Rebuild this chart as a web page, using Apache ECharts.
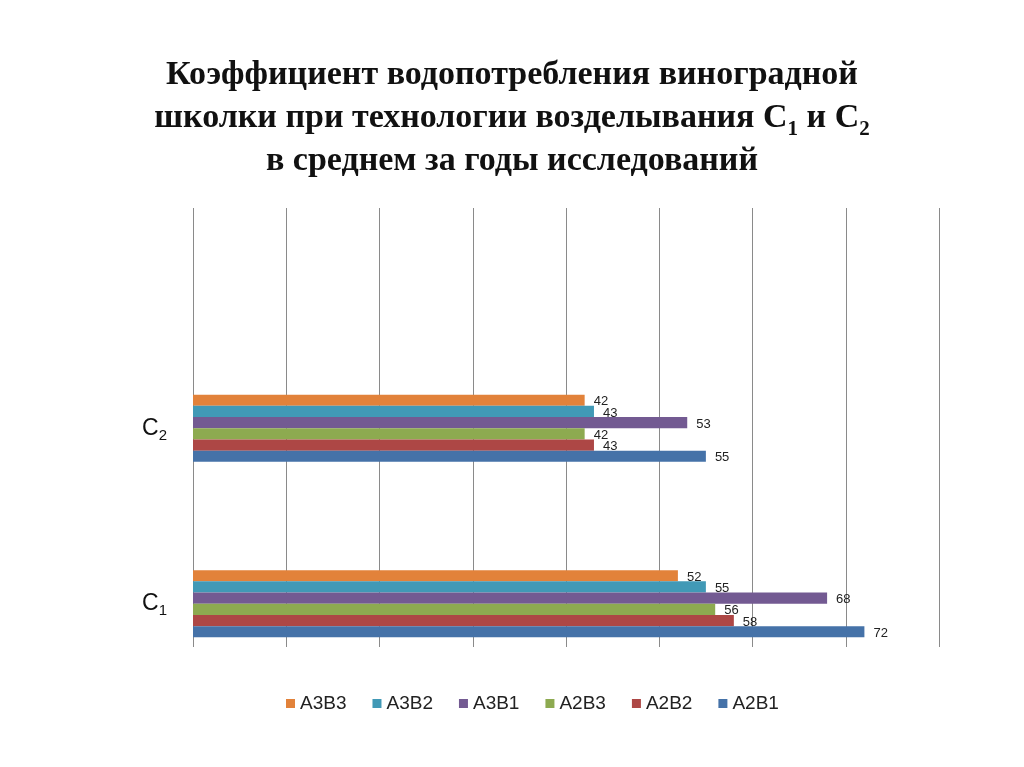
<!DOCTYPE html>
<html>
<head>
<meta charset="utf-8">
<script src="https://cdn.jsdelivr.net/npm/echarts@6/dist/echarts.min.js"></script>
<style>html,body{margin:0;padding:0;background:#fff;}#c{width:1024px;height:767px;}</style>
</head>
<body>
<div id="c"></div>
<script>
const categories = ['С1', 'С2'];
const legendOrder = ['A3B3', 'A3B2', 'A3B1', 'A2B3', 'A2B2', 'A2B1'];
const A3B3 = [52, 42];
const A3B2 = [55, 43];
const A3B1 = [68, 53];
const A2B3 = [56, 42];
const A2B2 = [58, 43];
const A2B1 = [72, 55];
const xTicks = { min: 0, max: 80, interval: 10 };

const colors = {
  A3B3: '#E2823A',
  A3B2: '#4199B6',
  A3B1: '#735A92',
  A2B3: '#8DAA50',
  A2B2: '#AD4745',
  A2B1: '#4572A8'
};
const seriesData = { A3B3, A3B2, A3B1, A2B3, A2B2, A2B1 };

const chart = echarts.init(document.getElementById('c'));
chart.setOption({
  backgroundColor: '#fff',
  animation: false,
  title: {
    left: 'center',
    top: 49,
    text: 'Коэффициент водопотребления виноградной\nшколки при технологии возделывания С{sub|1} и С{sub|2}\nв среднем за годы исследований',
    textStyle: {
      fontFamily: 'Liberation Serif',
      fontWeight: 'bold',
      fontSize: 34,
      lineHeight: 43,
      color: '#111',
      rich: {
        sub: { fontFamily: 'Liberation Serif', fontWeight: 'bold', fontSize: 21, lineHeight: 22, verticalAlign: 'bottom', color: '#111' }
      }
    }
  },
  legend: {
    data: legendOrder,
    left: 281,
    top: 689,
    itemWidth: 9,
    itemHeight: 9,
    itemGap: 26,
    icon: 'rect',
    textStyle: { fontFamily: 'Liberation Sans', fontSize: 19, color: '#222' }
  },
  grid: [
    { left: 193, right: 85, top: 208, bottom: 120 },
    { left: 193, right: 85, top: 340.5, bottom: 75.5 }
  ],
  xAxis: [
    {
      gridIndex: 0, type: 'value', min: xTicks.min, max: xTicks.max, interval: xTicks.interval,
      axisLine: { show: false }, axisTick: { show: false }, axisLabel: { show: false },
      splitLine: { show: true, lineStyle: { color: '#8a8a8a', width: 1 } }
    },
    {
      gridIndex: 1, type: 'value', min: xTicks.min, max: xTicks.max, interval: xTicks.interval,
      show: false, splitLine: { show: false }
    }
  ],
  yAxis: [
    { gridIndex: 0, type: 'value', min: 0, max: 1, show: false, splitLine: { show: false } },
    {
      gridIndex: 1, type: 'category', data: categories,
      axisLine: { show: false }, axisTick: { show: false }, splitLine: { show: false },
      axisLabel: {
        margin: 26,
        formatter: v => '{c|' + v.charAt(0) + '}{s|' + v.slice(1) + '}',
        rich: {
          c: { fontFamily: 'Liberation Sans', fontSize: 23, color: '#111', lineHeight: 30 },
          s: { fontFamily: 'Liberation Sans', fontSize: 15, color: '#111', lineHeight: 18, verticalAlign: 'bottom' }
        }
      }
    }
  ],
  series: legendOrder.map(name => ({
    name: name,
    type: 'bar',
    xAxisIndex: 1,
    yAxisIndex: 1,
    data: seriesData[name],
    barWidth: 11.2,
    barGap: '0%',
    itemStyle: { color: colors[name] },
    label: {
      show: true,
      position: 'right',
      distance: 9,
      offset: [0, 1.5],
      fontFamily: 'Liberation Sans',
      fontSize: 13,
      color: '#222'
    }
  }))
});
</script>
</body>
</html>
